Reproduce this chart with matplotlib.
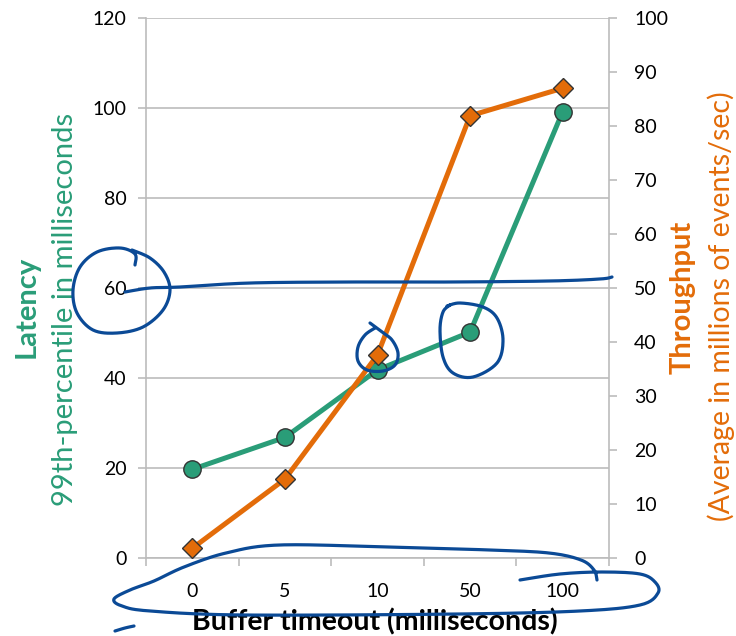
import numpy as np
import matplotlib.pyplot as plt
from matplotlib.ticker import FixedLocator

plt.rcParams['font.family'] = ['Lato', 'DejaVu Sans']

# buffer timeout categories (ms) and measured results
timeouts = ['0', '5', '10', '50', '100']
latency_p99 = [19.7, 26.8, 41.8, 50.2, 99.2]      # ms, left axis
throughput = [1.8, 14.6, 37.6, 81.9, 87.0]        # million events/sec, right axis

GREEN = '#2a9d78'
ORANGE = '#e36c09'
INK = '#0b4a96'
GRID = '#bcbcbc'
W, H = 736, 636


def catmull(pts, n=16):
    """Smooth a hand-drawn stroke through the given pixel points."""
    p = np.asarray(pts, dtype=float)
    p = np.vstack([p[0], p, p[-1]])
    out = []
    for i in range(1, len(p) - 2):
        p0, p1, p2, p3 = p[i - 1], p[i], p[i + 1], p[i + 2]
        t = np.linspace(0, 1, n, endpoint=False)[:, None]
        out.append(0.5 * ((2 * p1) + (-p0 + p2) * t
                          + (2 * p0 - 5 * p1 + 4 * p2 - p3) * t ** 2
                          + (-p0 + 3 * p1 - 3 * p2 + p3) * t ** 3))
    out.append(p[-2][None, :])
    return np.vstack(out)


fig = plt.figure(figsize=(W / 100, H / 100), dpi=100)
ax = fig.add_axes([146 / W, 1 - 558 / H, 463 / W, 540 / H])
ax2 = ax.twinx()
x = np.arange(len(timeouts))

ax.plot(x, latency_p99, color=GREEN, lw=3.6, marker='o', ms=12.5,
        mfc=GREEN, mec='#333333', mew=1, zorder=3, clip_on=False)
ax2.plot(x, throughput, color=ORANGE, lw=3.6, marker='D', ms=10,
         mfc=ORANGE, mec='#333333', mew=1, zorder=3, clip_on=False)

ax.set_xlim(-0.5, len(timeouts) - 0.5)
ax.set_ylim(0, 120)
ax2.set_ylim(0, 100)
ax.set_yticks(range(0, 121, 20))
ax2.set_yticks(range(0, 101, 10))
ax.set_xticks(x)
ax.set_xticklabels(timeouts)
ax.xaxis.set_minor_locator(FixedLocator(np.arange(-0.5, len(timeouts), 1)))

ax.tick_params(axis='x', which='major', length=0, pad=18, labelsize=14)
ax.tick_params(axis='x', which='minor', length=6, width=1.2, color=GRID)
ax.tick_params(axis='y', length=6, width=1.2, color=GRID, labelsize=14, pad=8)
ax2.tick_params(axis='y', length=6, width=1.2, color=GRID, labelsize=14, pad=12)
ax.grid(axis='y', color=GRID, lw=1.2)
ax.set_axisbelow(True)

for s in ['top', 'right']:
    ax.spines[s].set_visible(False)
for s in ['top', 'left', 'bottom']:
    ax2.spines[s].set_visible(False)
for sp in [ax.spines['left'], ax.spines['bottom'], ax2.spines['right']]:
    sp.set_color(GRID)
    sp.set_linewidth(1.2)

# axis titles
fig.text(27 / W, 1 - 307 / H, 'Latency', rotation=90, ha='center', va='center',
         color=GREEN, fontsize=21, fontweight='bold')
fig.text(65 / W, 1 - 309 / H, '99th-percentile in milliseconds', rotation=90,
         ha='center', va='center', color=GREEN, fontsize=21)
fig.text(683 / W, 1 - 297 / H, 'Throughput', rotation=90, ha='center', va='center',
         color=ORANGE, fontsize=21, fontweight='bold')
fig.text(721 / W, 1 - 306 / H, '(Average in millions of events/sec)', rotation=90,
         ha='center', va='center', color=ORANGE, fontsize=20.5)
fig.text(375 / W, 1 - 630 / H, 'Buffer timeout (milliseconds)', ha='center',
         va='baseline', fontsize=20.5, fontweight='bold')

# pen markup on top of the chart
ink = fig.add_axes([0, 0, 1, 1], zorder=10)
ink.set_xlim(0, W)
ink.set_ylim(H, 0)
ink.axis('off')
ink.patch.set_alpha(0)

strokes = [
    # loop around the 60 tick label
    [(135, 265), (135, 254), (120, 248), (97, 252), (80, 267), (73, 290),
     (77, 313), (93, 330), (117, 333), (143, 327), (163, 310), (170, 290),
     (164, 272), (150, 258), (132, 250)],
    # line drawn across at 60
    [(125, 292), (150, 288), (180, 287), (250, 283), (350, 282), (450, 282),
     (550, 281), (600, 279), (612, 277)],
    # loop around the 10 ms diamond
    [(370, 323), (382, 332), (392, 340), (398, 353), (395, 365), (383, 371),
     (367, 370), (358, 361), (358, 347), (365, 335), (375, 328)],
    # loop around the 50 ms circle
    [(447, 306), (460, 303), (483, 307), (497, 318), (503, 340), (497, 363),
     (473, 377), (453, 373), (443, 357), (440, 330), (443, 312), (450, 305)],
    # oval around the x tick labels
    [(520, 580), (560, 574), (602, 572), (640, 574), (655, 582), (658, 593),
     (640, 605), (580, 611), (459, 614), (244, 615), (150, 611), (122, 606),
     (114, 599), (130, 590), (154, 581), (184, 567), (226, 553), (279, 545),
     (387, 547), (490, 550), (549, 553), (581, 560), (594, 570), (597, 580)],
    # stray dash
    [(115, 631), (125, 628), (134, 626)],
]
for st in strokes:
    xy = catmull(st)
    ink.plot(xy[:, 0], xy[:, 1], color=INK, lw=2.3, solid_capstyle='round',
             solid_joinstyle='round')

fig.savefig('out.png', dpi=100)
